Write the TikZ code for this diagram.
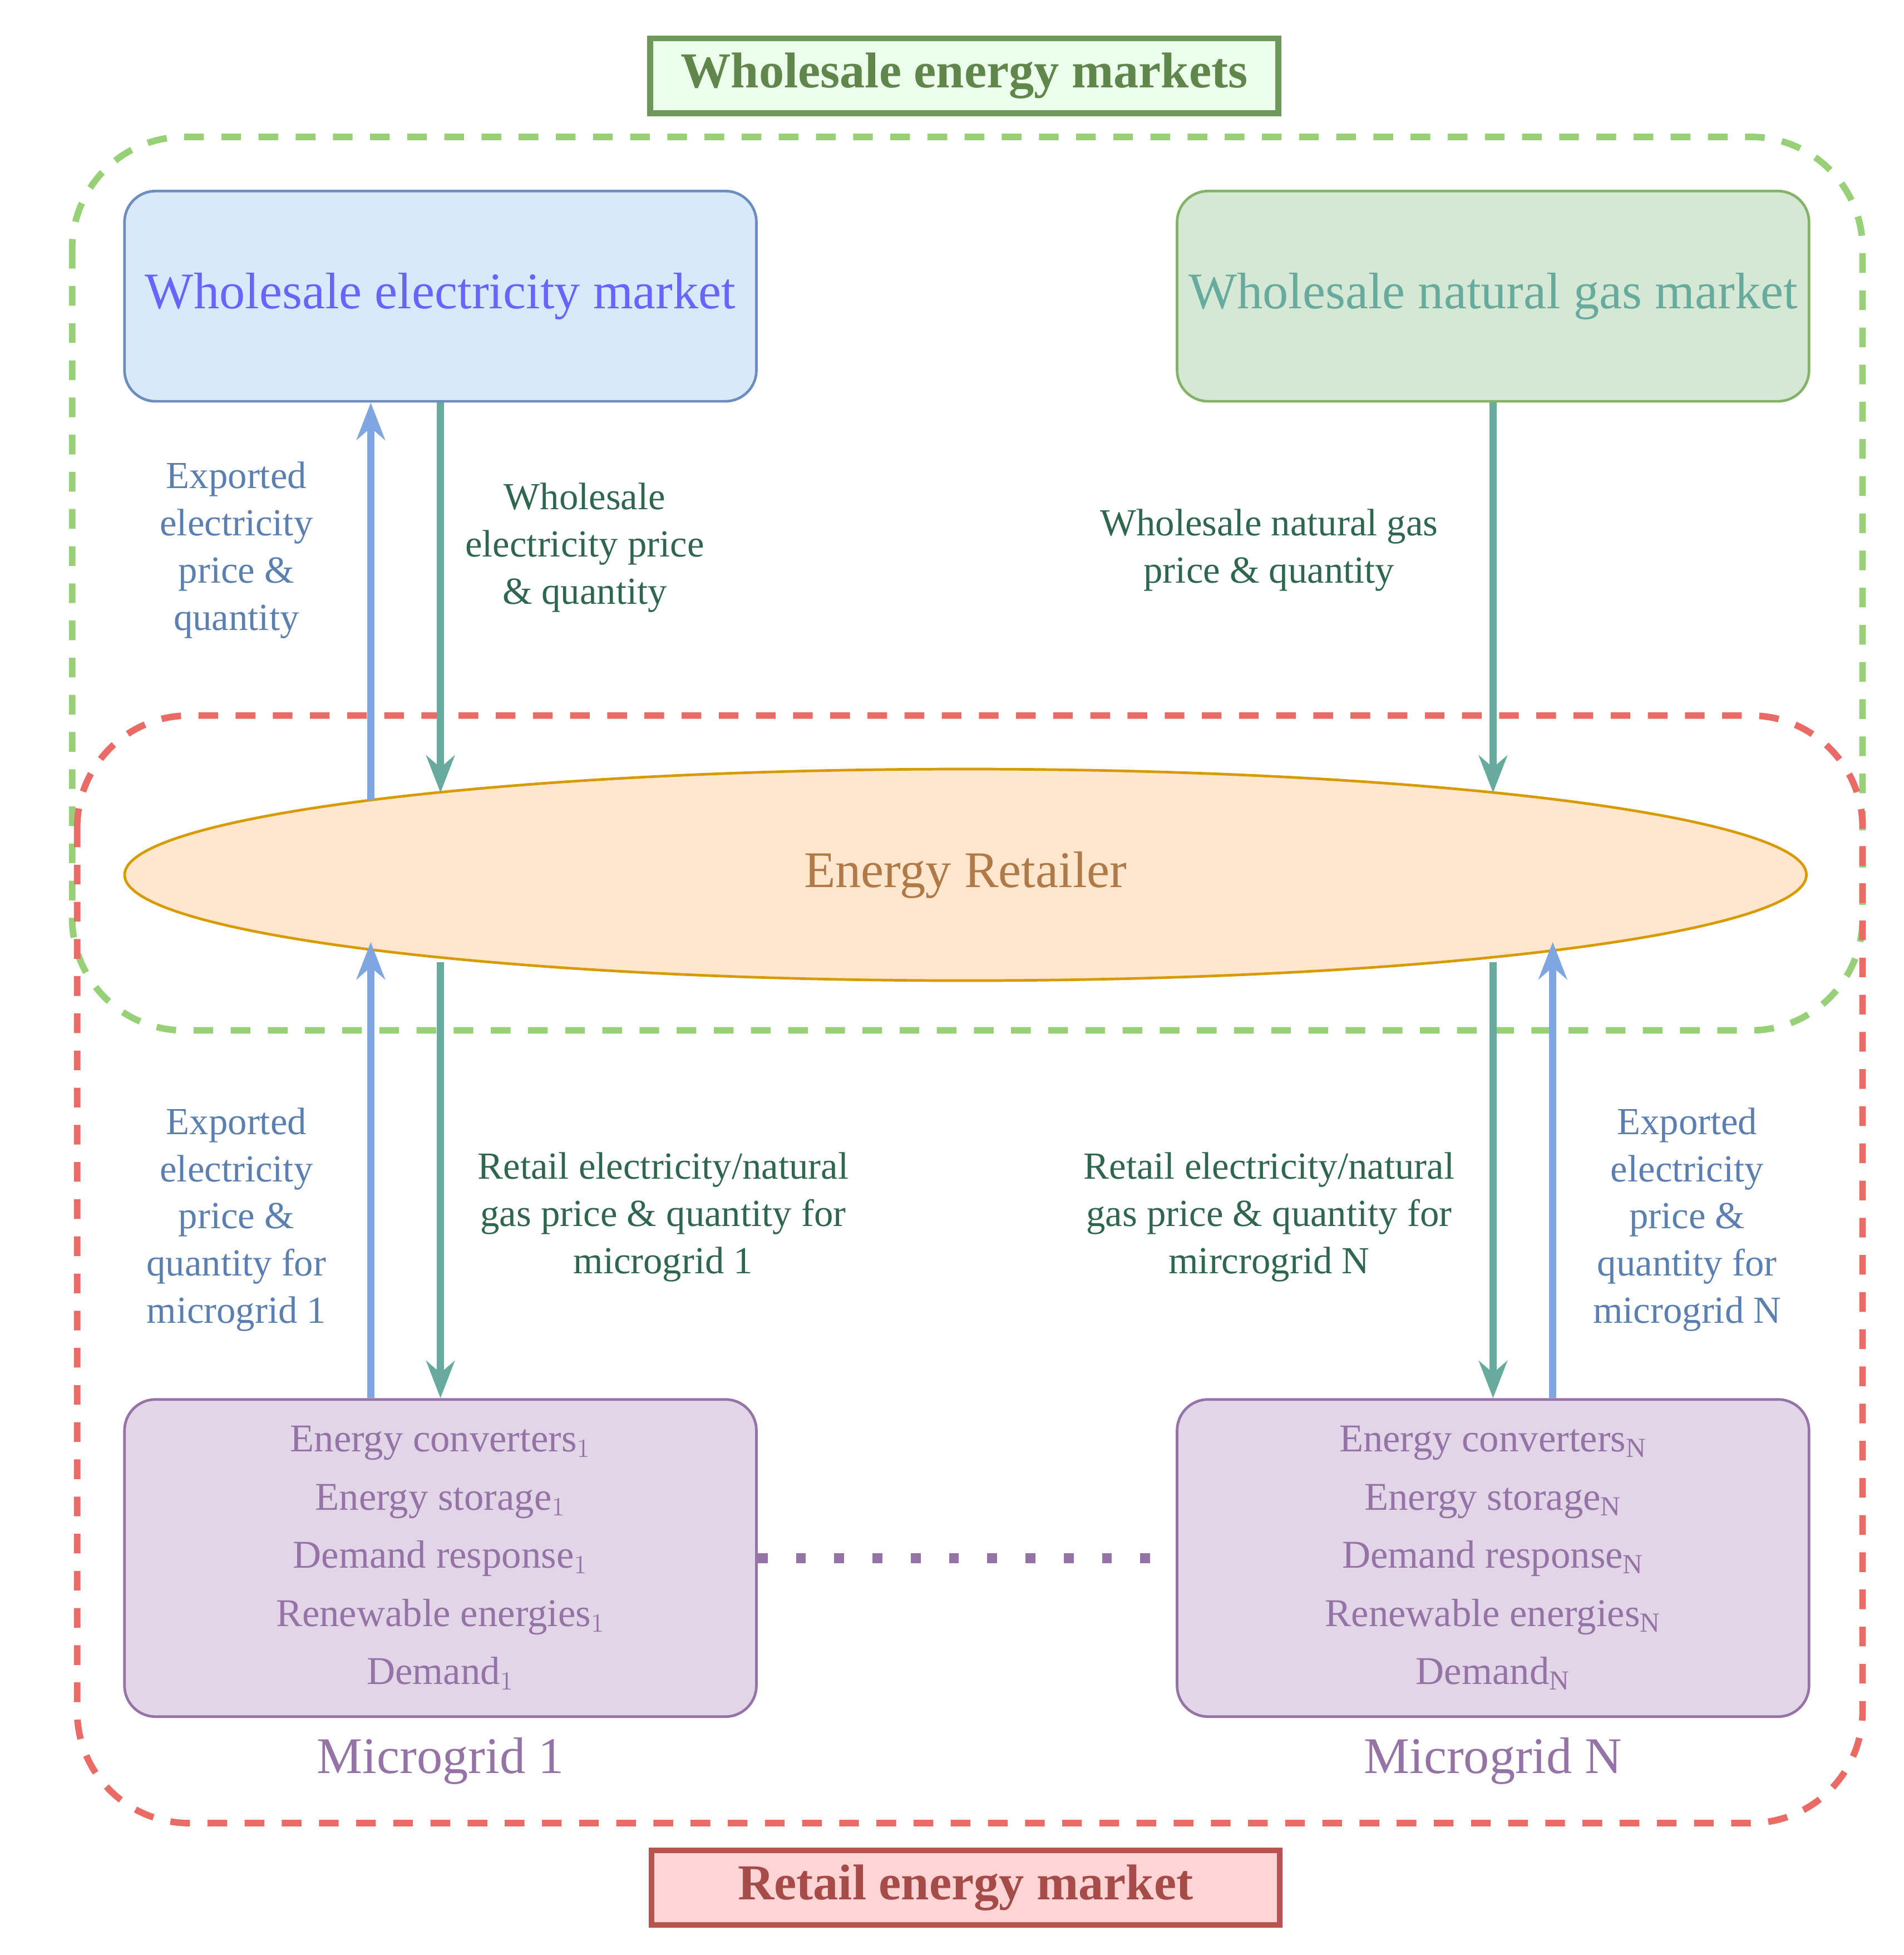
\documentclass[tikz,border=0pt]{standalone}
\usepackage{fontspec}
\setmainfont{Liberation Serif}
\usetikzlibrary{arrows.meta,shapes.geometric}
\definecolor{gbord}{HTML}{82B366}
\definecolor{gfill}{HTML}{D5E8D4}
\definecolor{bbord}{HTML}{6C8EBF}
\definecolor{bfill}{HTML}{DAE8FC}
\definecolor{obord}{HTML}{D79B00}
\definecolor{ofill}{HTML}{FFE6CC}
\definecolor{otxt}{HTML}{B07A48}
\definecolor{pbord}{HTML}{9673A6}
\definecolor{pfill}{HTML}{E1D5E7}
\definecolor{rbord}{HTML}{B85450}
\definecolor{darr}{HTML}{67AB9F}
\definecolor{uarr}{HTML}{7EA6E0}
\definecolor{gdash}{HTML}{97D077}
\definecolor{rdash}{HTML}{EA6B66}
\definecolor{gtxt}{HTML}{2F6650}
\definecolor{btxt}{HTML}{5A7FB0}
\begin{document}
\begin{tikzpicture}[x=0.02cm,y=-0.02cm,
  box/.style={draw,line width=1.2pt,rounded corners=0.5cm,minimum width=10.16cm,minimum height=3.38cm,font=\fontsize{23.5}{26}\selectfont},
  mg/.style={box,draw=pbord,fill=pfill,text=pbord,minimum height=5.1cm,align=center,font=\fontsize{18}{26.6}\selectfont},
  lab/.style={align=center,font=\fontsize{17.5}{21.6}\selectfont},
  up/.style={uarr,line width=3.2pt,-{Stealth[length=17pt,width=13pt]}},
  dn/.style={darr,line width=3.2pt,-{Stealth[length=17pt,width=13pt]}},
  frame/.style={line width=3pt,dash pattern=on 9pt off 8pt,rounded corners=1.8cm},
  title/.style={draw,line width=2.6pt,minimum width=10.1cm,minimum height=1.2cm,font=\fontsize{23}{26}\selectfont\bfseries}]
\useasboundingbox (0,0) rectangle (1530,1571);
% frames
\draw[frame,gdash] (58,110) rectangle (1497,828);
\draw[frame,rdash] (62,575) rectangle (1497,1465);
\node[title,draw=gbord!85!black,fill=green!8,text=gbord!75!black] (wem) at (775,61) {Wholesale energy markets};
\node[title,draw=rbord,fill=red!17,text=rbord!90!black] (rem) at (776,1517) {Retail energy market};
% nodes
\node[box,draw=bbord,fill=bfill,text=blue!60] (wel) at (354,238) {Wholesale electricity market};
\node[box,draw=gbord,fill=gfill,text=darr] (wgas) at (1200,238) {Wholesale natural gas market};
\node[ellipse,draw=obord,fill=ofill,line width=1.2pt,minimum width=27.04cm,minimum height=3.4cm,text=otxt,font=\fontsize{23.5}{26}\selectfont] (ret) at (776,703) {Energy Retailer};
\node[mg] (m1) at (354,1252) {Energy converters$_1$\\Energy storage$_1$\\Demand response$_1$\\Renewable energies$_1$\\Demand$_1$};
\node[mg] (mN) at (1200,1252) {Energy converters$_{\mathrm{N}}$\\Energy storage$_{\mathrm{N}}$\\Demand response$_{\mathrm{N}}$\\Renewable energies$_{\mathrm{N}}$\\Demand$_{\mathrm{N}}$};
\node[text=pbord,font=\fontsize{23.5}{26}\selectfont] (m1l) at (354,1415) {Microgrid 1};
\node[text=pbord,font=\fontsize{23.5}{26}\selectfont] (mNl) at (1200,1415) {Microgrid N};
% connectors
\coordinate (e1) at (298,643);
\coordinate (e2) at (354,637);
\coordinate (e3) at (1200,637);
\coordinate (e4) at (298,757);
\coordinate (e5) at (354,773);
\coordinate (e6) at (1200,773);
\coordinate (e7) at (1248,757);
\draw[up] (e1) -- (e1 |- wel.south);
\draw[dn] (e2 |- wel.south) -- (e2);
\draw[dn] (wgas.south) -- (e3);
\draw[up] (e4 |- m1.north) -- (e4);
\draw[dn] (e5) -- (e5 |- m1.north);
\draw[dn] (e6) -- (mN.north);
\draw[up] (e7 |- mN.north) -- (e7);
\draw[pbord,line width=4.5pt,dash pattern=on 4.5pt off 13pt] (m1.east) -- (mN.west);
% labels
\node[lab,text=btxt] at (190,442) {Exported\\electricity\\price \&\\quantity};
\node[lab,text=gtxt] at (470,440) {Wholesale\\electricity price\\\& quantity};
\node[lab,text=gtxt] at (1020,442) {Wholesale natural gas\\price \& quantity};
\node[lab,text=btxt] at (190,980) {Exported\\electricity\\price \&\\quantity for\\microgrid 1};
\node[lab,text=gtxt] at (533,978) {Retail electricity/natural\\gas price \& quantity for\\microgrid 1};
\node[lab,text=gtxt] at (1020,978) {Retail electricity/natural\\gas price \& quantity for\\mircrogrid N};
\node[lab,text=btxt] at (1356,980) {Exported\\electricity\\price \&\\quantity for\\microgrid N};
\end{tikzpicture}
\end{document}
